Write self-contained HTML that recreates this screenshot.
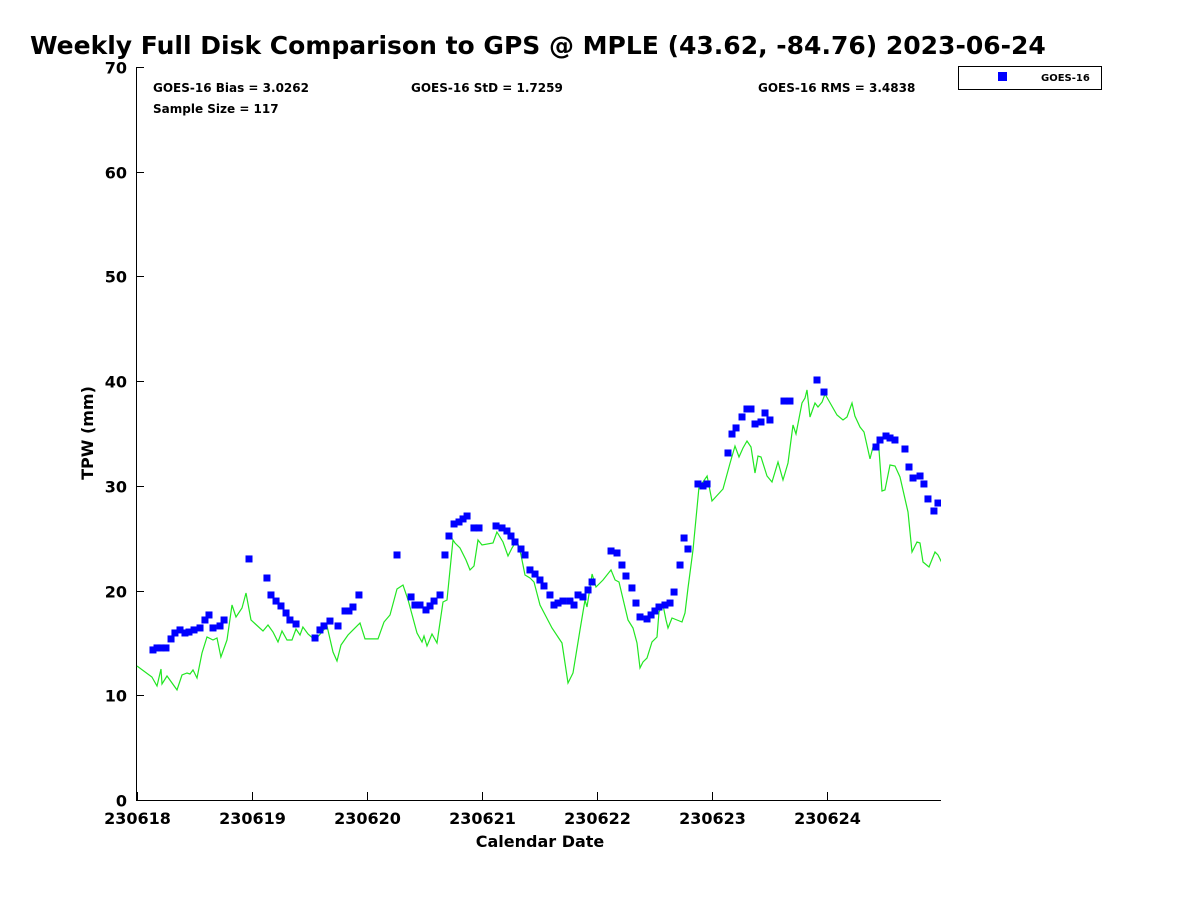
<!DOCTYPE html>
<html><head><meta charset="utf-8"><style>
body{margin:0;background:#fff;font-family:"DejaVu Sans","Liberation Sans",sans-serif;}
svg text{font-family:"DejaVu Sans","Liberation Sans",sans-serif;font-weight:bold;}
</style></head><body>
<svg id="chart" width="1200" height="900" xmlns="http://www.w3.org/2000/svg">
<rect width="1200" height="900" fill="#fff"/>
<text x="30" y="54" font-size="25">Weekly Full Disk Comparison to GPS @ MPLE (43.62, -84.76) 2023-06-24</text>
<text x="153" y="92" font-size="12">GOES-16 Bias = 3.0262</text>
<text x="153" y="113" font-size="12">Sample Size = 117</text>
<text x="411" y="92" font-size="12">GOES-16 StD = 1.7259</text>
<text x="758" y="92" font-size="12">GOES-16 RMS = 3.4838</text>
<g>
<rect x="958.5" y="66.5" width="143" height="23" fill="#fff" stroke="#000" stroke-width="1"/>
<rect x="998" y="72" width="9" height="9" fill="#0000ff"/>
<text x="1041" y="81" font-size="10">GOES-16</text>
</g>
<defs><clipPath id="pc"><rect x="136" y="60" width="805" height="741"/></clipPath></defs>
<g id="axes"></g>
<g id="marks" clip-path="url(#pc)"></g>
<text x="540" y="847" font-size="16" text-anchor="middle">Calendar Date</text>
<text transform="translate(93,433) rotate(-90)" font-size="16" text-anchor="middle">TPW (mm)</text>
</svg>
<script>
const xTickLabels=["230618","230619","230620","230621","230622","230623","230624"];
const yTickValues=[0,10,20,30,40,50,60,70];
const goesDays=[0.139,0.174,0.209,0.252,0.296,0.330,0.374,0.417,0.452,0.496,0.548,0.591,0.626,0.661,0.722,0.757,0.974,1.130,1.165,1.209,1.252,1.296,1.330,1.383,1.548,1.591,1.626,1.678,1.748,1.809,1.843,1.878,1.930,2.261,2.383,2.417,2.461,2.513,2.548,2.583,2.635,2.678,2.713,2.757,2.800,2.835,2.870,2.930,2.974,3.122,3.174,3.217,3.252,3.287,3.339,3.374,3.417,3.461,3.504,3.539,3.591,3.626,3.661,3.704,3.765,3.800,3.835,3.878,3.922,3.957,4.122,4.174,4.217,4.252,4.304,4.339,4.374,4.435,4.470,4.504,4.539,4.591,4.635,4.670,4.722,4.757,4.791,4.878,4.922,4.957,5.139,5.174,5.209,5.261,5.304,5.339,5.374,5.426,5.461,5.504,5.626,5.678,5.913,5.974,6.426,6.461,6.513,6.548,6.591,6.678,6.713,6.748,6.809,6.843,6.878,6.930,6.965];
const goesTPW=[14.33,14.52,14.52,14.52,15.38,15.95,16.24,15.95,16.04,16.24,16.43,17.19,17.67,16.43,16.62,17.19,23.02,21.2,19.58,19.0,18.53,17.86,17.19,16.81,15.47,16.24,16.62,17.09,16.62,18.05,18.05,18.43,19.58,23.40,19.39,18.62,18.62,18.15,18.53,19.0,19.58,23.40,25.21,26.36,26.55,26.84,27.12,25.98,25.98,26.17,25.98,25.69,25.21,24.64,23.97,23.40,21.97,21.58,21.01,20.44,19.58,18.62,18.81,19.0,19.0,18.62,19.58,19.39,20.06,20.82,23.78,23.59,22.44,21.39,20.25,18.81,17.48,17.29,17.67,18.05,18.43,18.62,18.81,19.86,22.44,25.02,23.97,30.18,29.99,30.18,33.14,34.95,35.53,36.58,37.34,37.34,35.91,36.10,36.96,36.29,38.10,38.10,40.11,38.96,33.71,34.38,34.76,34.57,34.38,33.52,31.80,30.75,30.94,30.18,28.75,27.60,28.36];
const gpsDays=[0,0.130,0.174,0.209,0.217,0.261,0.348,0.391,0.435,0.461,0.487,0.522,0.565,0.609,0.661,0.696,0.730,0.783,0.826,0.861,0.913,0.948,0.991,1.096,1.139,1.183,1.226,1.261,1.304,1.348,1.383,1.417,1.443,1.487,1.548,1.609,1.652,1.704,1.739,1.774,1.835,1.878,1.939,1.983,2.096,2.148,2.200,2.261,2.313,2.357,2.435,2.478,2.496,2.522,2.565,2.609,2.661,2.696,2.748,2.765,2.809,2.861,2.896,2.930,2.965,3.0,3.096,3.130,3.183,3.226,3.261,3.304,3.339,3.374,3.417,3.452,3.504,3.609,3.661,3.696,3.748,3.791,3.852,3.896,3.913,3.957,3.991,4.052,4.122,4.157,4.191,4.270,4.313,4.348,4.374,4.400,4.435,4.478,4.522,4.539,4.574,4.600,4.617,4.652,4.696,4.739,4.765,4.791,4.835,4.870,4.887,4.922,4.957,5.0,5.096,5.157,5.200,5.235,5.270,5.304,5.339,5.374,5.400,5.426,5.478,5.522,5.574,5.617,5.661,5.704,5.730,5.783,5.809,5.826,5.852,5.896,5.922,5.957,5.983,6.087,6.139,6.174,6.217,6.243,6.287,6.322,6.374,6.400,6.452,6.478,6.504,6.548,6.591,6.635,6.704,6.739,6.783,6.809,6.835,6.887,6.939,6.965,7.0];
const gpsTPW=[12.80,11.75,10.89,12.51,11.08,11.84,10.51,11.94,12.13,12.03,12.42,11.65,14.04,15.57,15.28,15.47,13.66,15.28,18.62,17.48,18.34,19.77,17.19,16.14,16.71,16.04,15.09,16.14,15.28,15.28,16.33,15.76,16.52,15.85,15.28,16.04,16.62,14.13,13.27,14.80,15.76,16.24,16.90,15.38,15.38,17.0,17.67,20.15,20.53,19.10,15.95,15.09,15.66,14.71,15.85,14.99,18.91,19.10,24.83,24.54,24.07,22.92,21.97,22.35,24.83,24.35,24.54,25.59,24.64,23.30,24.07,24.83,23.40,21.49,21.20,20.82,18.62,16.43,15.57,14.99,11.17,12.13,16.24,19.10,18.43,21.58,20.34,21.01,21.97,21.01,20.82,17.19,16.43,14.99,12.61,13.18,13.56,15.09,15.57,17.95,18.62,17.19,16.43,17.38,17.19,17.0,17.86,20.25,23.88,27.98,29.89,30.37,30.94,28.55,29.70,32.18,33.81,32.76,33.62,34.28,33.71,31.23,32.85,32.76,30.94,30.37,32.28,30.56,32.18,35.81,34.95,37.91,38.39,39.16,36.58,37.91,37.53,38.01,38.77,36.77,36.29,36.58,37.91,36.67,35.62,35.14,32.57,33.71,33.43,29.51,29.61,31.99,31.90,30.85,27.50,23.68,24.64,24.54,22.73,22.25,23.68,23.40,22.63];

const NS="http://www.w3.org/2000/svg";
const X0=137, PX_PER_DAY=115, Y0=800, YTOP=67, YMAX=70;
const xs=d=>X0+d*PX_PER_DAY;
const ys=v=>Y0-v*(Y0-YTOP)/YMAX;
function mk(tag,attrs,parent){const e=document.createElementNS(NS,tag);for(const k in attrs)e.setAttribute(k,attrs[k]);parent.appendChild(e);return e;}
const axes=document.getElementById('axes'), marks=document.getElementById('marks');

let yAxis=mk('line',{x1:136.5,y1:YTOP,x2:136.5,y2:801,stroke:'#000','stroke-width':1},axes);


let xAxis=mk('line',{x1:136,y1:800.5,x2:941,y2:800.5,stroke:'#000','stroke-width':1},axes);



yTickValues.forEach(v=>{
  const y=Math.round(ys(v))+0.5;
  const t=mk('line',{x1:136,y1:y,x2:144,y2:y,stroke:'#000'},axes);
  
  
  const l=mk('text',{x:127,y:y+6,'font-size':16,'text-anchor':'end'},axes);
  l.textContent=v;
  
  
});
xTickLabels.forEach((s,i)=>{
  const x=Math.round(xs(i))+0.5;
  const t=mk('line',{x1:x,y1:800,x2:x,y2:792,stroke:'#000'},axes);
  
  
  const l=mk('text',{x:x,y:824,'font-size':16,'text-anchor':'middle'},axes);
  l.textContent=s;
  
  
});

const pts=gpsDays.map((d,i)=>xs(d).toFixed(1)+','+ys(gpsTPW[i]).toFixed(1)).join(' ');
const line=mk('polyline',{points:pts,fill:'none',stroke:'#22e622','stroke-width':1.2},marks);



goesDays.forEach((d,i)=>{
  const r=mk('rect',{x:xs(d)-3.5,y:ys(goesTPW[i])-3.5,width:7,height:7,fill:'#0000ff'},marks);
  
  
});
</script>
</body></html>
